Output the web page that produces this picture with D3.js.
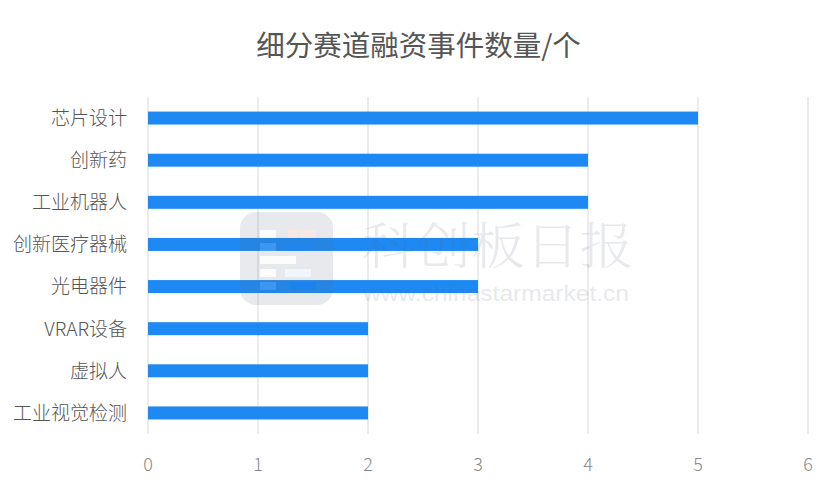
<!DOCTYPE html>
<html><head><meta charset="utf-8">
<script src="https://cdn.jsdelivr.net/npm/d3@7/dist/d3.min.js"></script>
<style>body{margin:0;background:#fff}svg{display:block}</style>
</head><body><svg id="c" width="837" height="490"></svg>
<script>
const title = "细分赛道融资事件数量/个";
const categories = ["芯片设计","创新药","工业机器人","创新医疗器械","光电器件","VRAR设备","虚拟人","工业视觉检测"];
const values = [5,4,4,3,3,2,2,2];
const ticks = [0,1,2,3,4,5,6];

const svg = d3.select("#c");
const font = "'Noto Sans CJK SC','Noto Sans',sans-serif";
const x = d3.scaleLinear().domain([0,6]).range([148,808]);
const y = d3.scaleBand().domain(categories).range([97,434]);

// title
svg.append("text").attr("x",418.5).attr("y",56).attr("text-anchor","middle")
  .attr("font-family",font).attr("font-size",28.5).attr("font-weight",400).attr("fill","#555")
  .text(title);

// grid
svg.append("g").selectAll("line").data(ticks).join("line")
  .attr("x1",d=>x(d)).attr("x2",d=>x(d)).attr("y1",97).attr("y2",434)
  .attr("stroke","#d9d9d9").attr("stroke-width",1);

// bars
const bh = 13;
svg.append("g").selectAll("rect").data(categories).join("rect")
  .attr("x",x(0)).attr("y",(d)=>y(d)+y.bandwidth()/2-bh/2)
  .attr("width",(d,i)=>x(values[i])-x(0)).attr("height",bh)
  .attr("fill","#1e89f3");

// category labels
svg.append("g").selectAll("text").data(categories).join("text")
  .attr("x",127).attr("y",d=>y(d)+y.bandwidth()/2).attr("dy","0.36em")
  .attr("text-anchor","end").attr("font-family",font).attr("font-size",19)
  .attr("font-weight",300).attr("fill","#555").text(d=>d);

// x tick labels
svg.append("g").selectAll("text").data(ticks).join("text")
  .attr("x",d=>x(d)).attr("y",471).attr("text-anchor","middle")
  .attr("font-family",font).attr("font-size",18).attr("font-weight",300)
  .attr("fill","#888").text(d=>d);

// watermark
const wm = svg.append("g").attr("opacity",0.14);
wm.append("rect").attr("x",240).attr("y",212).attr("width",93).attr("height",93).attr("rx",16).attr("fill","#5a6a80");
const sq = [[260,230,16,8,"#fff"],[288,230,10,8,"#e05a40"],[300,230,16,8,"#e05a40"],[260,243,16,8,"#fff"],[284,243,32,8,"#3a70c0"],[260,256,36,8,"#fff"],[260,269,16,8,"#fff"],[285,269,26,8,"#a0d0f0"],[260,282,16,8,"#fff"],[290,282,26,8,"#1060e0"]];
wm.selectAll("rect.s").data(sq).join("rect").attr("class","s")
  .attr("x",d=>d[0]).attr("y",d=>d[1]).attr("width",d=>d[2]).attr("height",d=>d[3]).attr("fill",d=>d[4]).attr("opacity",0.9);
wm.append("text").attr("x",362).attr("y",264).attr("font-family","'Noto Serif CJK SC','Noto Sans CJK SC',serif")
  .attr("font-size",50).attr("font-weight",300).attr("fill","#5a6a80").attr("textLength",272).attr("lengthAdjust","spacingAndGlyphs").text("科创板日报");
wm.append("text").attr("x",363).attr("y",301).attr("font-family","'Liberation Sans',Arial,sans-serif")
  .attr("font-size",22).attr("fill","#5a6a80").attr("textLength",266).attr("lengthAdjust","spacingAndGlyphs").text("www.chinastarmarket.cn");
</script></body></html>
